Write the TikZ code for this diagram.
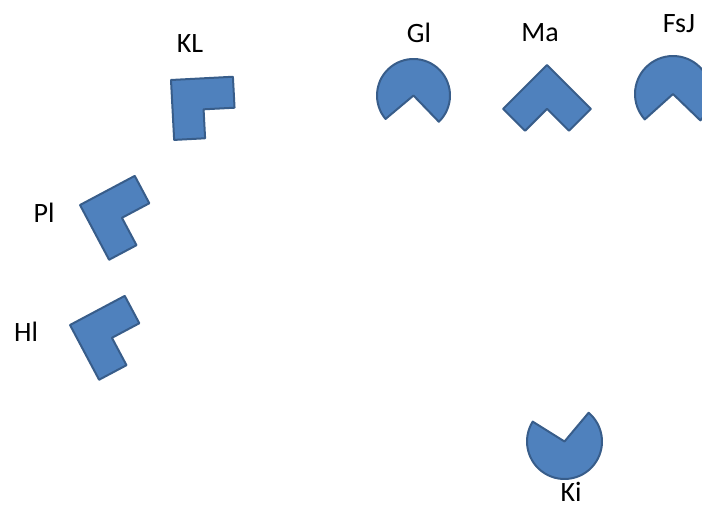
\documentclass[tikz,border=0pt]{standalone}
\usepackage{fontspec}
\setmainfont{Carlito}
\usepackage{tikz}
\usetikzlibrary{arrows.meta,shapes}
\definecolor{piecefill}{HTML}{4F81BD}
\definecolor{pieceline}{HTML}{385D8A}
\tikzset{
  piece/.style={draw=pieceline, fill=piecefill, line width=2pt, line join=round},
  lbl/.style={anchor=base, inner sep=0pt, text depth=0pt, font=\fontsize{28}{32}\selectfont}
}

\begin{document}
\begin{tikzpicture}[x=1pt, y=1pt]

  \newcommand\Side{62};
  \newcommand\Arm{31};

  \useasboundingbox (0,0) rectangle (702,507);

  %% corner pieces
  \coordinate (kl) at (171,427);
  \coordinate (pl) at (80,302);
  \coordinate (hl) at (70,182);
  \coordinate (ma) at (547,442);

  \draw[piece, shift={(kl)}, rotate=3]
    (0,0)--(\Side,0)--(\Side,-\Arm)--(\Arm,-\Arm)--(\Arm,-60)--(0,-60)--cycle;
  \draw[piece, shift={(pl)}, rotate=28]
    (0,0)--(\Side,0)--(\Side,-\Arm)--(\Arm,-\Arm)--(\Arm,-\Side)--(0,-\Side)--cycle;
  \draw[piece, shift={(hl)}, rotate=28]
    (0,0)--(\Side,0)--(\Side,-\Arm)--(\Arm,-\Arm)--(\Arm,-\Side)--(0,-\Side)--cycle;
  \draw[piece, shift={(ma)}, rotate=-45]
    (0,0)--(\Side,0)--(\Side,-\Arm)--(\Arm,-\Arm)--(\Arm,-\Side)--(0,-\Side)--cycle;

  %% pies
  \coordinate (gl) at (413.5,411.5);
  \coordinate (fsj) at (673,413);
  \coordinate (ki) at (564.5,65.5);

  \draw[piece](gl) -- ++(314:36.5) arc[start angle=314, end angle=580, radius=36.5] -- cycle;
  \draw[piece](fsj) -- ++(316:38) arc[start angle=316, end angle=582, radius=38] -- cycle;
  \draw[piece](ki) -- ++(148:37.5) arc[start angle=148, end angle=410, radius=37.5] -- cycle;

  %% labels
  \node[lbl] (klLabel) at (190,454) {KL};
  \node[lbl] (glLabel) at (419,464) {Gl};
  \node[lbl] (maLabel) at (540,465) {Ma};
  \node[lbl] (fsjLabel) at (679,474) {FsJ};
  \node[lbl] (plLabel) at (44,284) {Pl};
  \node[lbl] (hlLabel) at (26,166) {Hl};
  \node[lbl] (kiLabel) at (571,6) {Ki};

\end{tikzpicture}
\end{document}
